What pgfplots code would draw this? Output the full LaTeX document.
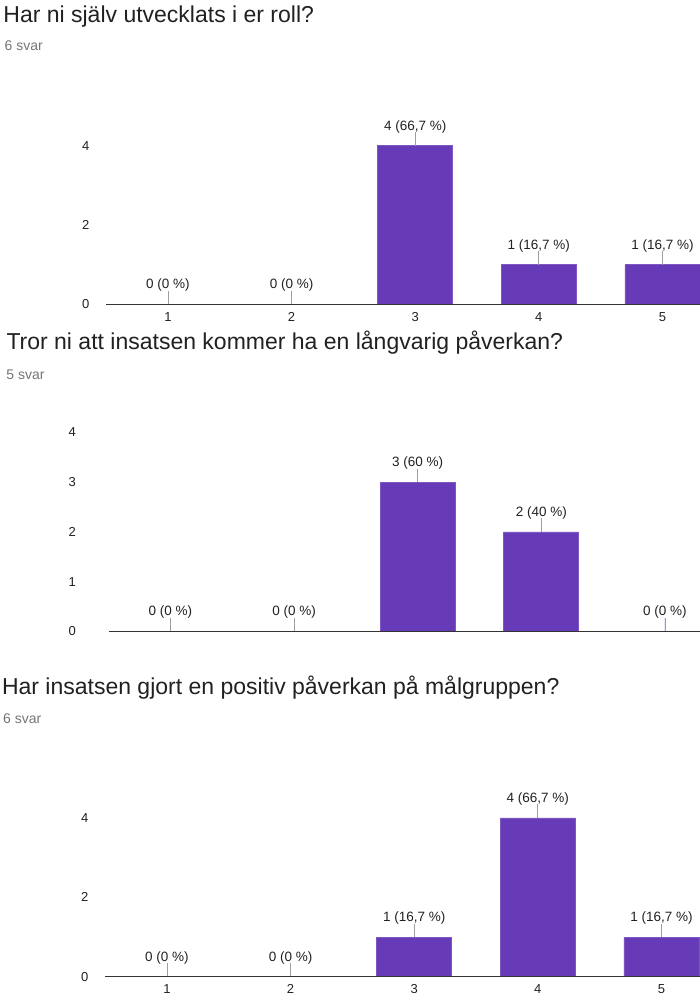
\documentclass[border=0pt]{standalone}
\usepackage{fontspec}
\setmainfont{Liberation Sans}
\usepackage{pgfplots}
\pgfplotsset{compat=1.18}
\definecolor{barc}{HTML}{673AB7}
\definecolor{barline}{HTML}{7E57C2}
\definecolor{axisc}{HTML}{333333}
\definecolor{lead}{HTML}{9E9E9E}
\definecolor{txt}{HTML}{212121}
\definecolor{sub}{HTML}{757575}

\pgfplotsset{
 panel/.style={
  scale only axis, width=618pt, anchor=south west, xmin=0.5, xmax=5.5, ymin=0,
  clip=false, axis on top,
  axis x line*=bottom, axis y line*=left,
  x axis line style={draw=axisc, line width=1.4pt, -},
  y axis line style={draw=none},
  major tick length=0pt,
  xtick={1,...,5},
  tick label style={font=\fontsize{13}{15}\selectfont, text=txt},
  /pgf/number format/assume math mode=true,
  xticklabel style={anchor=base, yshift=-17.2pt, inner sep=0pt},
  yticklabel style={anchor=east, inner sep=0pt, xshift=-16.6pt},
  ybar, bar width=75pt, bar shift=0pt,
  point meta=explicit symbolic,
  nodes near coords,
  every node near coord/.append style={anchor=base, yshift=15.7pt, inner sep=0pt, font=\fontsize{13.5}{16}\selectfont, text=txt},
 },
 bars/.style={fill=barc, draw=barline, line width=0.8pt,
   error bars/.cd, y dir=plus, y fixed=#1, error mark=none,
   error bar style={draw=lead, line width=0.8pt}},
}

\begin{document}
\begin{tikzpicture}
% Panel 1
\node[anchor=base west, inner sep=0pt, text=txt, font=\fontsize{23}{27}\selectfont] at (3.2pt,-22.7pt) {Har ni själv utvecklats i er roll?};
\node[anchor=base west, inner sep=0pt, text=sub, font=\fontsize{14}{16}\selectfont] at (4.5pt,-51pt) {6 svar};
\begin{axis}[panel, at={(106.2pt,-304.5pt)}, height=198.5pt, ymax=5, ytick={0,2,4}]
\addplot[bars=0.34] coordinates {(1,0) [0 (0 \%)] (2,0) [0 (0 \%)] (3,4) [4 (66,7 \%)] (4,1) [1 (16,7 \%)] (5,1) [1 (16,7 \%)]};
\end{axis}

% Panel 2
\node[anchor=base west, inner sep=0pt, text=txt, font=\fontsize{23}{27}\selectfont] at (6.3pt,-349.3pt) {Tror ni att insatsen kommer ha en långvarig påverkan?};
\node[anchor=base west, inner sep=0pt, text=sub, font=\fontsize{14}{16}\selectfont] at (6.2pt,-379pt) {5 svar};
\begin{axis}[panel, at={(108.7pt,-631.5pt)}, height=224.1pt, ymax=4.5, ytick={0,1,2,3,4}, xticklabels={}, yticklabel style={xshift=-16.1pt}]
\addplot[bars=0.27] coordinates {(1,0) [0 (0 \%)] (2,0) [0 (0 \%)] (3,3) [3 (60 \%)] (4,2) [2 (40 \%)] (5,0) [0 (0 \%)]};
\end{axis}

% Panel 3
\node[anchor=base west, inner sep=0pt, text=txt, font=\fontsize{23}{27}\selectfont] at (1.8pt,-694pt) {Har insatsen gjort en positiv påverkan på målgruppen?};
\node[anchor=base west, inner sep=0pt, text=sub, font=\fontsize{14}{16}\selectfont] at (3pt,-723pt) {6 svar};
\begin{axis}[panel, at={(105.2pt,-976.7pt)}, height=198.5pt, ymax=5, ytick={0,2,4}]
\addplot[bars=0.34] coordinates {(1,0) [0 (0 \%)] (2,0) [0 (0 \%)] (3,1) [1 (16,7 \%)] (4,4) [4 (66,7 \%)] (5,1) [1 (16,7 \%)]};
\end{axis}

\pgfresetboundingbox
\path[use as bounding box] (0pt,0pt) rectangle (700pt,-1000pt);
\end{tikzpicture}
\end{document}
